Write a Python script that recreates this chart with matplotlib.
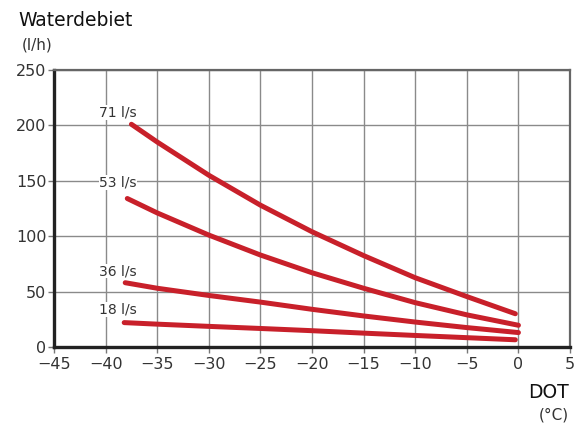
import matplotlib
matplotlib.use("Agg")
import matplotlib.pyplot as plt

plt.rcParams['font.family'] = ['DejaVu Sans']

# data (DOT in degC, flow in l/h)
dot_71 = [-37.5, -35, -30, -25, -20, -15, -10, -5, -0.3]
flow_71 = [201, 185, 155, 128, 104, 82.5, 62.5, 45.5, 30]
dot_53 = [-37.9, -35, -30, -25, -20, -15, -10, -5, 0]
flow_53 = [134, 121, 101, 83, 67, 53, 40, 29, 19.6]
dot_36 = [-38.1, -35, -30, -25, -20, -15, -10, -5, 0]
flow_36 = [58, 53, 46.5, 40.5, 34, 28, 22.5, 17.5, 13]
dot_18 = [-38.2, -35, -30, -25, -20, -15, -10, -5, -0.3]
flow_18 = [22, 20.6, 18.6, 16.7, 14.7, 12.5, 10.4, 8.4, 6.5]

labels = ["71 l/s", "53 l/s", "36 l/s", "18 l/s"]
label_y = [211.5, 148.5, 68.5, 34]

xticks = [-45, -40, -35, -30, -25, -20, -15, -10, -5, 0, 5]
yticks = [0, 50, 100, 150, 200, 250]

rood = "#c8202a"

fig = plt.figure(figsize=(5.79, 4.26), dpi=100)
ax = fig.add_axes([0.0933, 0.1855, 0.8912, 0.6502])

curves = [(dot_71, flow_71), (dot_53, flow_53), (dot_36, flow_36), (dot_18, flow_18)]
for (xs, ys), lab, ly in zip(curves, labels, label_y):
    ax.plot(xs, ys, color=rood, lw=3.6, solid_capstyle="round",
            solid_joinstyle="round", zorder=3)
    ax.text(-37.0, ly, lab, ha="right", va="center", fontsize=10,
            color="#333333", zorder=2.5,
            bbox=dict(facecolor="white", edgecolor="none", pad=0.3))

ax.set_xlim(-45, 5)
ax.set_ylim(0, 250)
ax.set_xticks(xticks)
ax.set_yticks(yticks)
ax.set_xticklabels([str(t).replace("-", "\u2212") for t in xticks])
ax.grid(True, color="#8a8a8a", lw=1.0)
ax.set_axisbelow(True)

ax.tick_params(axis="both", labelsize=11.5, labelcolor="#333333", length=4,
               width=1, direction="out", color="#777777")
ax.tick_params(axis="x", pad=3.5)
ax.tick_params(axis="y", pad=1.5)

for side in ["left", "bottom"]:
    ax.spines[side].set_color("#222222")
    ax.spines[side].set_linewidth(2.4)
for side in ["top", "right"]:
    ax.spines[side].set_color("#666666")
    ax.spines[side].set_linewidth(1.6)

fig.text(18 / 579, 1 - 20 / 426, "Waterdebiet", fontsize=13.5, ha="left",
         va="center", color="#111111")
fig.text(22 / 579, 1 - 45 / 426, "(l/h)", fontsize=11, ha="left",
         va="center", color="#333333")
fig.text(569 / 579, 1 - 392 / 426, "DOT", fontsize=13.5, ha="right",
         va="center", color="#111111")
fig.text(569 / 579, 1 - 415 / 426, "(°C)", fontsize=11, ha="right",
         va="center", color="#333333")

fig.savefig("out.png", dpi=100)
